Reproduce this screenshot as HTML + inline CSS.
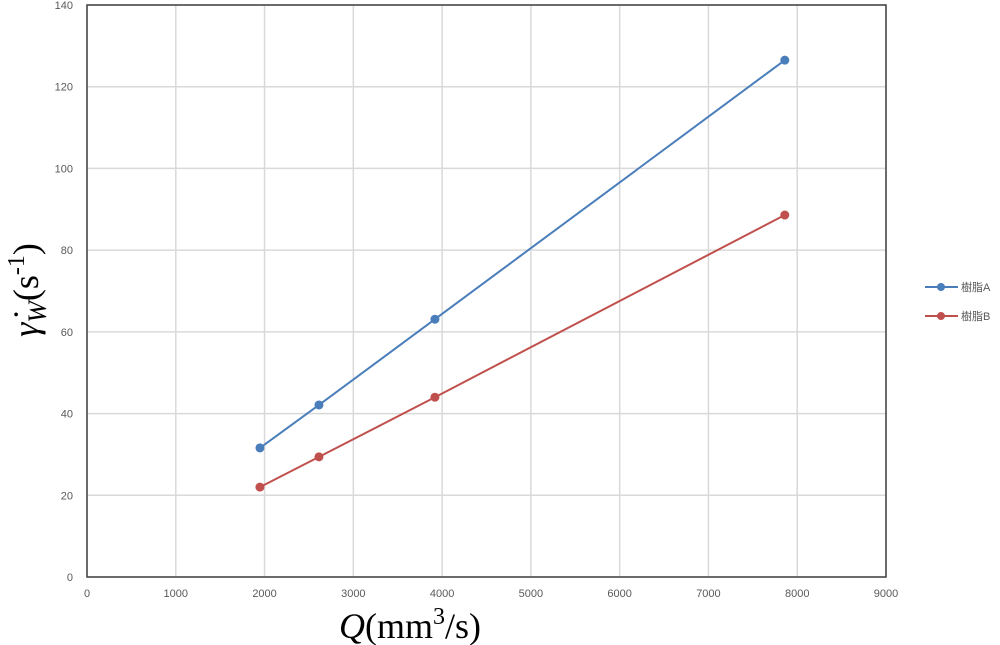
<!DOCTYPE html>
<html><head><meta charset="utf-8">
<style>
body{margin:0;background:#fff;}
svg{display:block;font-family:"Liberation Sans","Noto Sans CJK JP",sans-serif;}
</style></head>
<body>
<svg id="chart" width="1000" height="645" viewBox="0 0 1000 645" xmlns="http://www.w3.org/2000/svg">
<g id="grid"></g>
<g id="ticks"></g>
<rect x="87" y="5" width="799" height="572" fill="none" stroke="#404040" stroke-width="1.5"/>
<g id="series"></g>
<text x="410" y="638" text-anchor="middle" font-family="Liberation Serif,serif" font-size="36"><tspan font-style="italic">Q</tspan>(mm<tspan font-size="24" dy="-14">3</tspan><tspan dy="14">/s)</tspan></text>
<text transform="translate(38,290) rotate(-90)" text-anchor="middle" font-family="Liberation Serif,serif" font-size="36"><tspan font-style="italic">γ̇</tspan><tspan font-style="italic" font-size="26" dy="8">W</tspan><tspan dy="-8">(s</tspan><tspan font-size="24" dy="-14">-1</tspan><tspan dy="14">)</tspan></text>
<g>
<g>
<line x1="925" y1="287" x2="958" y2="287" stroke="#4a7ebb" stroke-width="2"/><circle cx="941" cy="287" r="4" fill="#4a7ebb"/>
<text x="961" y="291" font-size="11" fill="#595959">樹脂A</text></g>
<g>
<line x1="925" y1="316" x2="958" y2="316" stroke="#c0504d" stroke-width="2"/><circle cx="941" cy="316" r="4" fill="#c0504d"/>
<text x="961" y="320" font-size="11" fill="#595959">樹脂B</text></g>
</g>
</svg>
<script>
const xValues=[1948,2613,3919,7860];
const seriesA=[31.6,42.1,63.1,126.5];
const seriesB=[22.0,29.4,44.0,88.6];
const xTicks=[0,1000,2000,3000,4000,5000,6000,7000,8000,9000];
const yTicks=[0,20,40,60,80,100,120,140];
const NS="http://www.w3.org/2000/svg";
const X=v=>87+v*(799/9000);
const Y=v=>577-v*(572/140);
const grid=document.getElementById('grid'),ticks=document.getElementById('ticks'),series=document.getElementById('series');
function mk(t,a,p){const e=document.createElementNS(NS,t);for(const k in a)e.setAttribute(k,a[k]);p.appendChild(e);return e;}
xTicks.forEach(v=>{
  const l=mk('line',{x1:X(v),x2:X(v),y1:5,y2:577,stroke:'#d9d9d9','stroke-width':1.5},grid);
  
  
  const t=mk('text',{x:X(v),y:597,'text-anchor':'middle','font-size':11,fill:'#595959'},ticks);
  t.textContent=v;
  
  
});
yTicks.forEach(v=>{
  const l=mk('line',{x1:87,x2:886,y1:Y(v),y2:Y(v),stroke:'#d9d9d9','stroke-width':1.5},grid);
  
  
  const t=mk('text',{x:73,y:Y(v)+4,'text-anchor':'end','font-size':11,fill:'#595959'},ticks);
  t.textContent=v;
  
  
});
function draw(vals,color,name){
  const pts=xValues.map((x,i)=>X(x)+','+Y(vals[i])).join(' ');
  const pl=mk('polyline',{points:pts,fill:'none',stroke:color,'stroke-width':2},series);
  
  
  xValues.forEach((x,i)=>{
    const c=mk('circle',{cx:X(x),cy:Y(vals[i]),r:4.5,fill:color},series);
    
    
  });
}
draw(seriesA,'#4a7ebb','series-a');
draw(seriesB,'#c0504d','series-b');
</script>
</body></html>
